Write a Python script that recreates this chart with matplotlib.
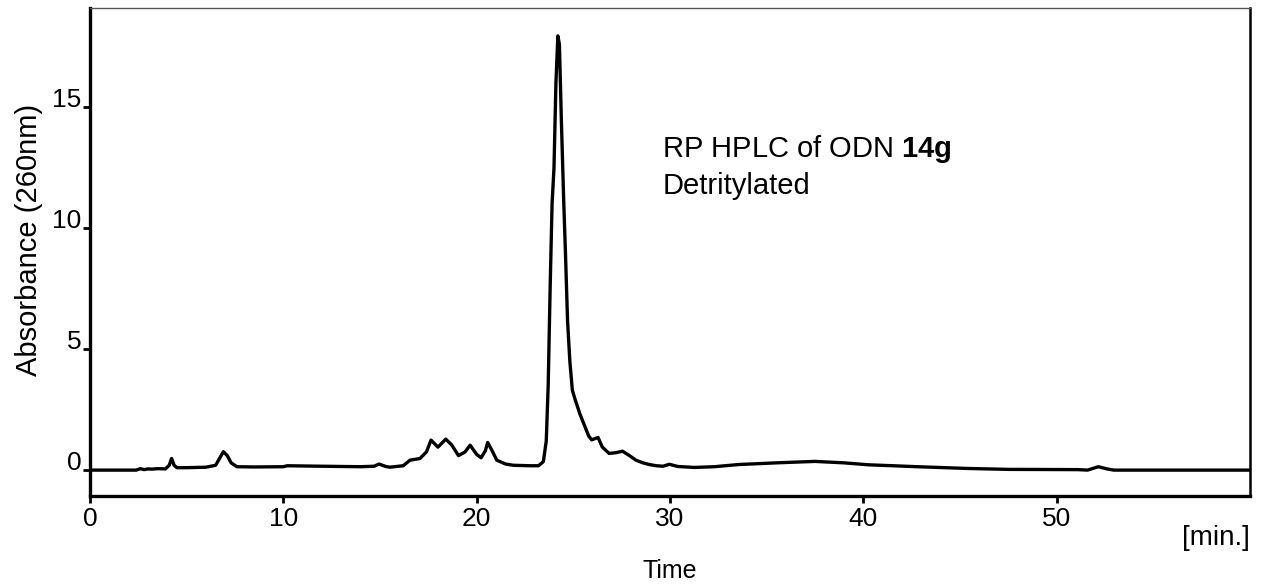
import matplotlib
matplotlib.use("Agg")
import matplotlib.pyplot as plt

plt.rcParams['font.family'] = ['Liberation Sans', 'DejaVu Sans']
plt.rcParams['mathtext.fontset'] = 'custom'
plt.rcParams['mathtext.rm'] = 'Liberation Sans'
plt.rcParams['mathtext.bf'] = 'Liberation Sans:bold'

# chromatogram: time [min] and absorbance (260nm)
time = [0.0, 2.4, 2.6, 2.8, 3.0, 3.2, 3.5, 3.9, 4.1, 4.22, 4.35, 4.5, 5.0, 6.0, 6.5,
        6.75, 6.9, 7.1, 7.3, 7.6, 8.5, 10.0, 10.2, 12.0, 14.0, 14.7, 14.95, 15.3, 15.5,
        16.2, 16.55, 17.07, 17.4, 17.64, 18.0, 18.4, 18.7, 19.06, 19.4, 19.66, 20.0,
        20.23, 20.45, 20.57, 20.8, 21.04, 21.5, 21.9, 22.76, 23.2, 23.45, 23.6, 23.7,
        23.8, 23.9, 24.0, 24.1, 24.2, 24.28, 24.38, 24.5, 24.6, 24.7, 24.82, 24.95,
        25.1, 25.35, 25.6, 25.8, 25.95, 26.28, 26.5, 26.85, 27.2, 27.55, 27.9, 28.24,
        28.6, 28.93, 29.3, 29.63, 29.97, 30.4, 31.25, 32.3, 33.55, 35.5, 37.5, 39.0,
        40.25, 42.8, 45.3, 47.5, 51.1, 51.6, 52.15, 52.6, 52.95, 60.0]
absorb = [0.0, 0.0, 0.06, 0.02, 0.05, 0.04, 0.06, 0.05, 0.2, 0.48, 0.2, 0.1, 0.1, 0.12, 0.2,
          0.55, 0.76, 0.6, 0.3, 0.14, 0.13, 0.14, 0.18, 0.16, 0.14, 0.16, 0.25, 0.15, 0.12,
          0.18, 0.41, 0.48, 0.75, 1.24, 0.95, 1.28, 1.05, 0.6, 0.75, 1.03, 0.65, 0.51, 0.8,
          1.14, 0.8, 0.41, 0.25, 0.2, 0.18, 0.18, 0.35, 1.2, 3.5, 7.5, 11.0, 12.5, 16.0,
          17.95, 17.6, 14.5, 11.2, 8.8, 6.2, 4.5, 3.3, 2.9, 2.3, 1.8, 1.4, 1.25, 1.35,
          0.95, 0.69, 0.72, 0.78, 0.6, 0.41, 0.3, 0.23, 0.18, 0.16, 0.24, 0.15, 0.11,
          0.14, 0.23, 0.3, 0.36, 0.3, 0.22, 0.14, 0.07, 0.03, 0.02, 0.0, 0.14, 0.05, 0.0,
          0.0]

x_ticks = [0, 10, 20, 30, 40, 50]
y_ticks = [0, 5, 10, 15]

fig = plt.figure(figsize=(12.62, 5.86), dpi=100)
ax = fig.add_axes([0.0713, 0.1536, 0.9192, 0.8327])

ax.plot(time, absorb, color='black', lw=2.4, solid_joinstyle='round')

ax.set_xlim(0, 60)
ax.set_ylim(-1.07, 19.1)
ax.set_xticks(x_ticks)
ax.set_yticks(y_ticks)

for side in ['left', 'bottom']:
    ax.spines[side].set_linewidth(2.4)
ax.spines['right'].set_linewidth(1.8)
ax.spines['top'].set_linewidth(1.0)
ax.spines['top'].set_color('#555555')

ax.tick_params(axis='both', direction='out', length=5, width=2, labelsize=19)
ax.tick_params(axis='x', pad=3)
ax.tick_params(axis='y', pad=1)
for lab in ax.get_yticklabels():
    lab.set_verticalalignment('baseline')

ax.set_ylabel('Absorbance (260nm)', fontsize=21)
ax.yaxis.set_label_coords(-0.0405, 0.525)
ax.set_xlabel('Time', fontsize=18, labelpad=20)
ax.text(1.0, -0.06, '[min.]', transform=ax.transAxes, ha='right', va='top', fontsize=20)

ax.text(29.6, 12.56, 'RP HPLC of ODN $\\mathbf{14g}$\nDetritylated', fontsize=21,
        va='center', ha='left', linespacing=1.3)

plt.savefig('out.png', dpi=100)
